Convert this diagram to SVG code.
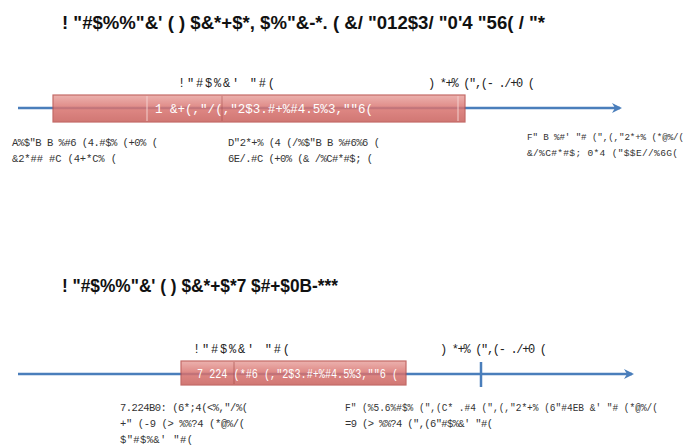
<svg xmlns="http://www.w3.org/2000/svg" width="692" height="446" viewBox="0 0 692 446">
<style>
.title{font-family:"Liberation Sans",Arial,sans-serif;font-weight:bold;font-size:18px;fill:#111}
.lab{font-family:"Liberation Mono","Courier New",monospace;font-size:12px;fill:#222}
.note{font-family:"Liberation Mono","Courier New",monospace;font-size:10.5px;fill:#333}
.bar{font-family:"Liberation Mono","Courier New",monospace;font-size:13px;fill:#fff}
.axis{stroke:#4a7ebb;stroke-width:2.5;fill:none}
.box{fill:url(#rg);stroke:#b9514e;stroke-width:1.2;opacity:0.85}
</style>
<defs>
<linearGradient id="rg" x1="0" y1="0" x2="0" y2="1">
<stop offset="0" stop-color="#e9a5a1"/>
<stop offset="0.5" stop-color="#d9736f"/>
<stop offset="1" stop-color="#c9605c"/>
</linearGradient>
<marker id="ah" viewBox="0 0 10 10" refX="8" refY="5" markerWidth="4" markerHeight="4" orient="auto" markerUnits="strokeWidth">
<path d="M0,0 L10,5 L0,10 L3,5 z" fill="#4a7ebb"/>
</marker>
</defs>
<text class="title" x="62" y="29" textLength="483" lengthAdjust="spacingAndGlyphs">! "#$%%"&amp;' ( ) $&amp;*+$*,  $%"&amp;-*.  ( &amp;/ "012$3/ "0'4 "56( / "*</text>
<text class="title" x="62" y="292" textLength="276" lengthAdjust="spacingAndGlyphs">! "#$%%"&amp;' ( ) $&amp;*+$*7 $#+$0B-***</text>
<g id="connectors">
<line class="axis" x1="18" y1="108" x2="620" y2="108" marker-end="url(#ah)"/>
<line class="axis" x1="18" y1="374" x2="632" y2="374" marker-end="url(#ah)"/>
<line class="axis" x1="481" y1="362" x2="481" y2="387"/>
</g>
<g id="bar1">
<rect class="box" x="53" y="95" width="412" height="27"/>
<line x1="147" y1="96" x2="147" y2="121" stroke="#f3d0ce" stroke-width="1"/>
<line x1="222" y1="96" x2="222" y2="121" stroke="#a04844" stroke-width="1" opacity="0.5"/>
<line x1="458" y1="96" x2="458" y2="121" stroke="#f3d0ce" stroke-width="1"/>
<text class="bar" x="155" y="113" textLength="218" lengthAdjust="spacingAndGlyphs">1 &amp;+(,"/(,"2$3.#+%#4.5%3,""6(</text>
</g>
<g id="label1a"><text class="lab" x="178" y="87" textLength="97">!"#$%&amp;' "#(</text></g>
<g id="label1b"><text class="lab" x="428" y="87" textLength="107">) *+% (",(- ./+0 (</text></g>
<g id="note1a">
<text class="note" x="12" y="146" textLength="146">A%$"B B %#6 (4.#$% (+0% (</text>
<text class="note" x="12" y="162" textLength="105">&amp;2*## #C (4+*C% (</text>
</g>
<g id="note1b">
<text class="note" x="228" y="146" textLength="152">D"2*+% (4 (/%$"B B %#6%6 (</text>
<text class="note" x="228" y="162" textLength="145">6E/.#C (+0% (&amp; /%C#*#$; (</text>
</g>
<g id="note1c">
<text class="note" x="527" y="140" style="font-size:9.2px" textLength="157">F" B %#' "# (",(,"2*+% (*@%/(</text>
<text class="note" x="527" y="156" style="font-size:9.6px" textLength="151">&amp;/%C#*#$; 0*4 ("$$E//%6G(</text>
</g>
<g id="bar2">
<rect class="box" x="181" y="361" width="225" height="24"/>
<line x1="234" y1="362" x2="234" y2="384" stroke="#a04844" stroke-width="1" opacity="0.6"/>
<text class="bar" x="197" y="378" textLength="201" lengthAdjust="spacingAndGlyphs">7 224 (*#6 (,"2$3.#+%#4.5%3,""6 (</text>
</g>
<g id="label2a"><text class="lab" x="193" y="353" textLength="97">!"#$%&amp;' "#(</text></g>
<g id="label2b"><text class="lab" x="440" y="353" textLength="107">) *+% (",(- ./+0 (</text></g>
<g id="note2a">
<text class="note" x="120" y="411" textLength="128">7.224B0: (6*;4(&lt;%,"/%(</text>
<text class="note" x="120" y="427" textLength="125">+" (-9 (&gt; %%?4 (*@%/(</text>
<text class="note" x="120" y="443" textLength="73">$"#$%&amp;' "#(</text>
</g>
<g id="note2b">
<text class="note" x="345" y="411" textLength="313" lengthAdjust="spacingAndGlyphs">F" (%5.6%#$% (",(C* .#4 (",(,"2*+% (6"#4EB &amp;' "# (*@%/(</text>
<text class="note" x="345" y="427" textLength="148">=9 (&gt; %%?4 (",(6"#$%&amp;' "#(</text>
</g>
</svg>
